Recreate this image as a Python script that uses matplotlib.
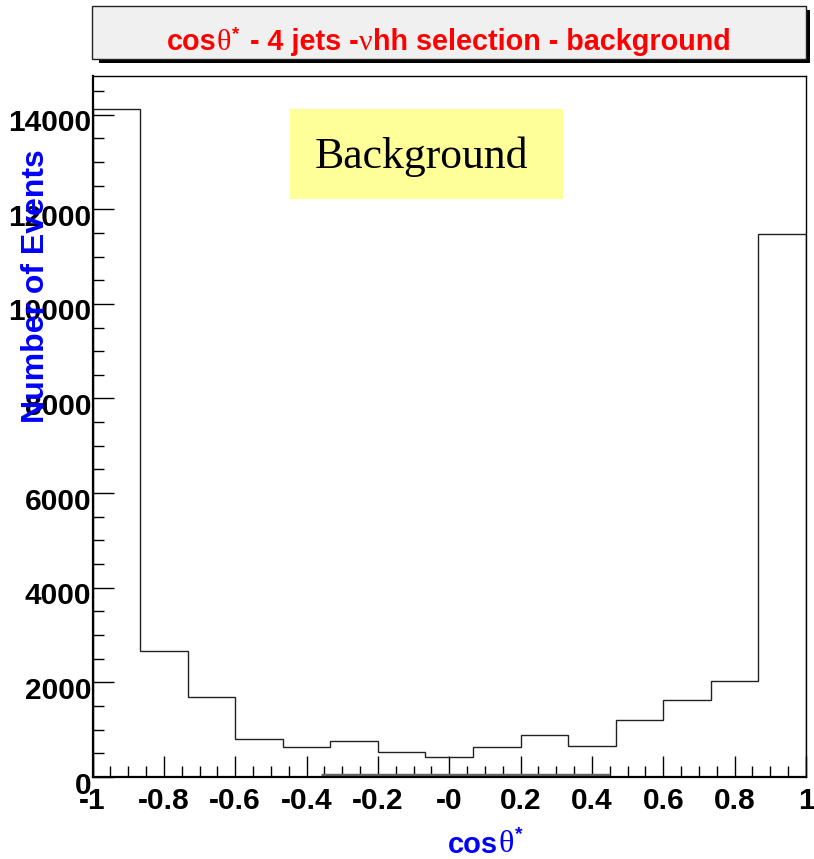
import matplotlib
matplotlib.use("Agg")
import matplotlib.pyplot as plt
import numpy as np
from matplotlib.patches import Rectangle
from matplotlib.text import Annotation
from matplotlib.ticker import FixedLocator, FixedFormatter, MultipleLocator
from matplotlib.transforms import ScaledTranslation

W, H = 814, 859

# cos(theta*) histogram, 15 bins over [-1, 1]
n_bins = 15
x_range = (-1.0, 1.0)
counts = [14110, 2667, 1687, 813, 635, 770, 529, 417, 635, 897, 650, 1206, 1623, 2025, 11479]

# small grey band sitting on the axis
band_lo, band_hi, band_level = -0.36, 0.45, 40

xticks = [-1, -0.8, -0.6, -0.4, -0.2, 0, 0.2, 0.4, 0.6, 0.8, 1]
xtick_labels = ["-1", "-0.8", "-0.6", "-0.4", "-0.2", "-0", "0.2", "0.4", "0.6", "0.8", "1"]
yticks = [0, 2000, 4000, 6000, 8000, 10000, 12000, 14000]
ytick_labels = ["0", "2000", "4000", "6000", "8000", "10000", "12000", "14000"]

SANS = "Liberation Sans"
SERIF = "Liberation Serif"

plt.rcParams["font.family"] = [SANS, "DejaVu Sans"]
plt.rcParams["font.weight"] = "bold"


def px(x, y):
    return x / W, 1 - y / H


fig = plt.figure(figsize=(W / 100, H / 100), dpi=100)
fig.patch.set_facecolor("white")

l, b = px(92.5, 777)
r, t = px(806, 76)
ax = fig.add_axes([l, b, r - l, t - b])
ax.set_facecolor("none")

edges = np.linspace(x_range[0], x_range[1], n_bins + 1)
ax.stairs(counts, edges, color="#222222", lw=1.0, baseline=0)
ax.plot([band_lo, band_hi], [band_level, band_level], color="#666666", lw=2.5,
        solid_capstyle="butt")

ax.set_xlim(*x_range)
ax.set_ylim(0, 1.05 * max(counts))

ax.xaxis.set_major_locator(FixedLocator(xticks))
ax.xaxis.set_major_formatter(FixedFormatter(xtick_labels))
ax.xaxis.set_minor_locator(MultipleLocator(0.05))
ax.yaxis.set_major_locator(FixedLocator(yticks))
ax.yaxis.set_major_formatter(FixedFormatter(ytick_labels))
ax.yaxis.set_minor_locator(MultipleLocator(500))

ax.tick_params(which="both", direction="in", top=False, right=False, width=1.0,
               colors="black", labelsize=21.5)
ax.tick_params(which="major", length=15)
ax.tick_params(which="minor", length=8)
ax.tick_params(axis="x", pad=7)
ax.tick_params(axis="y", pad=1)
for lab in ax.get_xticklabels() + ax.get_yticklabels():
    lab.set_fontweight("bold")
for lab in ax.get_yticklabels():
    lab.set_transform(lab.get_transform() + ScaledTranslation(0, -4 / 72, fig.dpi_scale_trans))
for s in ax.spines.values():
    s.set_linewidth(1.0)
ax.spines["left"].set_linewidth(1.6)
ax.spines["bottom"].set_linewidth(1.6)


def box(x0p, y0p, x1p, y1p, **kw):
    x0, y0 = px(x0p, y1p)
    x1, y1 = px(x1p, y0p)
    fig.add_artist(Rectangle((x0, y0), x1 - x0, y1 - y0, transform=fig.transFigure,
                             zorder=-1, **kw))


# title box with drop shadow
box(99, 10, 810, 63, facecolor="black", edgecolor="none")
box(92, 6, 806, 59, facecolor="#f0f0f0", edgecolor="#222222", lw=1.0)

# yellow label box
box(290, 109, 563, 199, facecolor="#ffff99", edgecolor="none")
bx, by = px(421, 168)
fig.text(bx, by, "Background", family=SERIF, fontweight="normal", fontsize=31.5,
         ha="center", va="baseline", color="black")


def rich_text(pieces, x, y, color, size):
    # pieces: (text, family, weight, size factor, superscript) chained left to right
    s0, fam0, wt0, f0, _ = pieces[0]
    first = fig.text(x, y, s0, family=fam0, fontweight=wt0, fontsize=size * f0,
                     color=color, ha="left", va="bottom")
    out = [first]
    for s, fam, wt, f, sup in pieces[1:]:
        style = dict(family=fam, fontweight=wt, fontsize=size * f, color=color, ha="left")
        if sup:
            a = Annotation(s, xy=(1, 1), xycoords=out[-1], xytext=(1, -3),
                           textcoords="offset points", va="center", **style)
        elif out[-1].get_text() == "*":
            # continue on the base line, past the superscript
            a = Annotation(s, xy=(1, 0), xycoords=out[-2], xytext=(size * 0.4, 0),
                           textcoords="offset points", va="bottom", **style)
        else:
            a = Annotation(s, xy=(1, 0), xycoords=out[-1], va="bottom", **style)
        fig.add_artist(a)
        out.append(a)
    return out


title_pieces = [
    ("cos", SANS, "bold", 1.0, False),
    ("θ", SERIF, "normal", 1.05, False),
    ("*", SANS, "bold", 0.65, True),
    (" - 4 jets -", SANS, "bold", 1.0, False),
    ("ν", SERIF, "normal", 1.05, False),
    ("hh selection - background", SANS, "bold", 1.0, False),
]
tx, ty = px(167, 56)
title = rich_text(title_pieces, tx, ty, "#ff0000", 20.7)

xlab_pieces = [
    ("cos", SANS, "bold", 1.0, False),
    ("θ", SERIF, "normal", 1.1, False),
    ("*", SANS, "bold", 0.65, True),
]
lx, ly = px(448, 859)
xlab = rich_text(xlab_pieces, lx, ly, "#0000ff", 21)

ylx, yly = px(36, 286)
fig.text(ylx, yly, "Number of Events", rotation=90, color="#0000ff", fontsize=23,
         fontweight="bold", ha="center", va="center")

fig.savefig("out.png", dpi=100)
